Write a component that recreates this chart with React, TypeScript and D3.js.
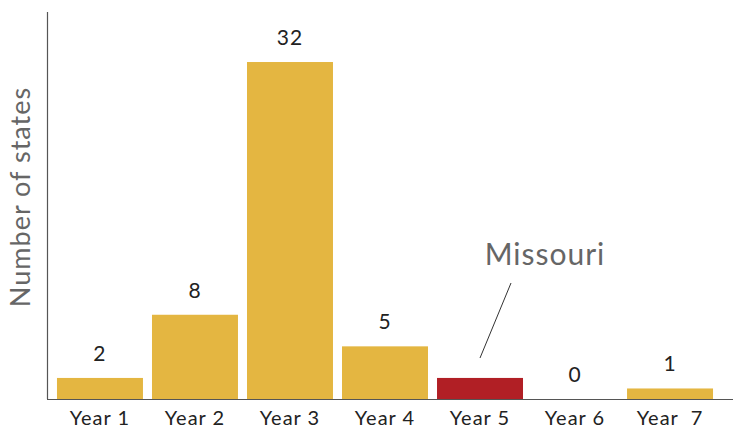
import * as d3 from 'd3';
import React from 'react';

const categories = ['Year 1', 'Year 2', 'Year 3', 'Year 4', 'Year 5', 'Year 6', 'Year  7'];
const values = [2, 8, 32, 5, 2, 0, 1];
const highlighted = ['Year 5'];
const annotationText = 'Missouri';

const width = 733;
const height = 430;
const margin = { top: 12, right: 0, bottom: 31, left: 47 };
const font = "'Century Gothic', 'Lato', 'Open Sans', sans-serif";

export default function App() {
  const innerBottom = height - margin.bottom;

  const x = d3
    .scaleBand<string>()
    .domain(categories)
    .range([margin.left, 723])
    .paddingInner(0.095)
    .paddingOuter(0.105);

  const y = d3.scaleLinear().domain([0, 36.75]).range([innerBottom, margin.top]);

  const hx = x('Year 5')! + x.bandwidth() / 2;

  return (
    <svg
      width={width}
      height={height}
      style={{ position: 'absolute', left: 0, top: 0, background: '#fff' }}
      fontFamily={font}
    >
      {categories.map((c, i) => (
        <rect
          key={c}
          x={x(c)}
          y={y(values[i])}
          width={x.bandwidth()}
          height={innerBottom - y(values[i])}
          fill={highlighted.includes(c) ? '#B11F25' : '#E4B641'}
        />
      ))}
      {categories.map((c, i) =>
        highlighted.includes(c) ? null : (
          <text
            key={'v' + c}
            x={x(c)! + x.bandwidth() / 2}
            y={y(values[i]) - 17}
            textAnchor="middle"
            fontSize={21}
            letterSpacing={1}
            fill="#222"
          >
            {values[i]}
          </text>
        )
      )}
      {categories.map((c) => (
        <text
          key={'t' + c}
          x={x(c)! + x.bandwidth() / 2}
          y={innerBottom + 26}
          textAnchor="middle"
          fontSize={20}
          letterSpacing={1}
          fill="#222"
          style={{ whiteSpace: 'pre' }}
        >
          {c}
        </text>
      ))}
      <line x1={margin.left + 0.5} x2={margin.left + 0.5} y1={margin.top} y2={innerBottom} stroke="#555" strokeWidth={1.2} />
      <line x1={margin.left} x2={width} y1={innerBottom + 0.5} y2={innerBottom + 0.5} stroke="#555" strokeWidth={1.2} />
      <text
        transform={`translate(30,197) rotate(-90)`}
        textAnchor="middle"
        fontSize={27}
        letterSpacing={1}
        fill="#666"
      >
        Number of states
      </text>
      <text x={545} y={265} textAnchor="middle" fontSize={30} letterSpacing={1} fill="#666">
        {annotationText}
      </text>
      <line x1={hx + 31} y1={283} x2={hx} y2={358} stroke="#333" strokeWidth={1} />
    </svg>
  );
}
